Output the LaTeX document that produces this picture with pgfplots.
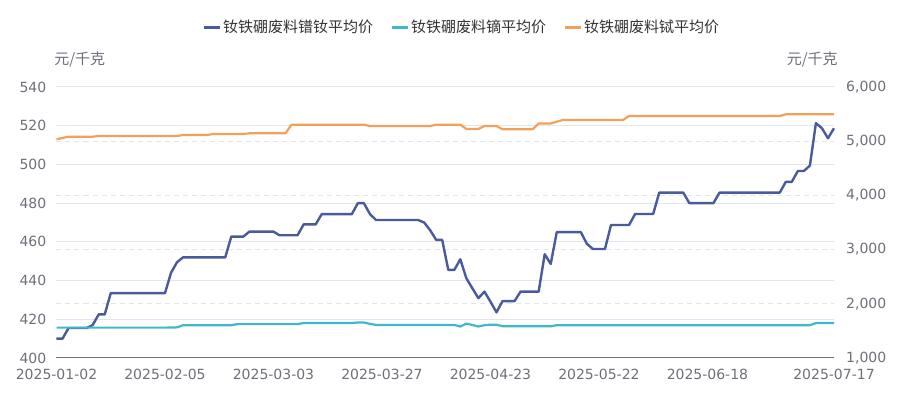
\documentclass[border=0pt]{standalone}
\usepackage{fontspec}
\setmainfont{Noto Sans CJK SC}
\newfontfamily\tickfont{DejaVu Sans}
\usepackage{pgfplots}
\pgfplotsset{compat=1.18}
\usepackage{pgfplotstable}
\definecolor{cBlue}{HTML}{4A5A9C}
\definecolor{cCyan}{HTML}{3FB8CC}
\definecolor{cOrange}{HTML}{F2A15A}
\definecolor{gridc}{HTML}{E0E6F1}
\definecolor{tickc}{HTML}{6E7079}
\definecolor{legc}{HTML}{333333}
\pgfplotstableread{
i nd dy tb
0 410 1560 5035
1 410 1560 5060
2 415.5 1560 5083
3 415.5 1560 5083
4 415.5 1560 5083
5 415.5 1560 5083
6 417 1560 5083
7 422.5 1560 5096
8 422.5 1560 5096
9 433.5 1560 5096
10 433.5 1560 5096
11 433.5 1560 5096
12 433.5 1560 5096
13 433.5 1560 5096
14 433.5 1560 5096
15 433.5 1560 5096
16 433.5 1560 5096
17 433.5 1560 5096
18 433.5 1560 5096
19 444 1562 5096
20 449.5 1565 5096
21 452 1605 5114
22 452 1605 5114
23 452 1605 5114
24 452 1605 5114
25 452 1605 5114
26 452 1605 5133
27 452 1605 5133
28 452 1605 5133
29 462.7 1605 5133
30 462.7 1625 5133
31 462.7 1625 5133
32 465.3 1625 5145
33 465.3 1625 5145
34 465.3 1625 5145
35 465.3 1625 5145
36 465.3 1625 5145
37 463.4 1625 5145
38 463.4 1625 5145
39 463.4 1625 5305
40 463.4 1625 5305
41 469 1645 5305
42 469 1645 5305
43 469 1645 5305
44 474.3 1645 5305
45 474.3 1645 5305
46 474.3 1645 5305
47 474.3 1645 5305
48 474.3 1645 5305
49 474.3 1645 5305
50 480 1655 5305
51 480 1655 5305
52 474.4 1630 5280
53 471.3 1610 5280
54 471.3 1610 5280
55 471.3 1610 5280
56 471.3 1610 5280
57 471.3 1610 5280
58 471.3 1610 5280
59 471.3 1610 5280
60 471.3 1610 5280
61 470 1610 5280
62 466 1610 5280
63 461 1610 5305
64 461 1610 5305
65 445.5 1610 5305
66 445.5 1610 5305
67 451 1580 5305
68 441.2 1635 5225
69 436 1610 5225
70 430.9 1580 5225
71 434.3 1605 5280
72 429.1 1615 5280
73 423.6 1615 5280
74 429.4 1585 5219
75 429.4 1585 5219
76 429.4 1585 5219
77 434.3 1585 5219
78 434.3 1585 5219
79 434.3 1585 5219
80 434.3 1585 5328
81 453.6 1585 5328
82 448.6 1585 5328
83 465 1605 5360
84 465 1605 5391
85 465 1605 5391
86 465 1605 5391
87 465 1605 5391
88 459 1605 5391
89 456.3 1605 5391
90 456.3 1605 5391
91 456.3 1605 5391
92 468.7 1605 5391
93 468.7 1605 5391
94 468.7 1605 5391
95 468.7 1605 5465
96 474.4 1605 5465
97 474.4 1605 5465
98 474.4 1605 5465
99 474.4 1605 5465
100 485.4 1605 5465
101 485.4 1605 5465
102 485.4 1605 5465
103 485.4 1605 5465
104 485.4 1605 5465
105 480 1605 5465
106 480 1605 5465
107 480 1605 5465
108 480 1605 5465
109 480 1605 5465
110 485.4 1605 5465
111 485.4 1605 5465
112 485.4 1605 5465
113 485.4 1605 5465
114 485.4 1605 5465
115 485.4 1605 5465
116 485.4 1605 5465
117 485.4 1605 5465
118 485.4 1605 5465
119 485.4 1605 5465
120 485.4 1605 5465
121 491 1605 5496
122 491 1605 5496
123 496.6 1605 5496
124 496.6 1605 5496
125 499.4 1605 5496
126 521.3 1645 5496
127 518.7 1645 5496
128 513.5 1645 5496
129 518.7 1645 5496
}\data
\begin{document}
\begin{tikzpicture}
\path[use as bounding box] (0pt,0pt) rectangle (922pt,396pt);
\begin{axis}[
  at={(56.5pt,38pt)}, anchor=south west,
  scale only axis, width=777.5pt, height=271pt,
  xmin=0, xmax=129, ymin=400, ymax=540,
  ytick={400,420,...,540},
  xtick={0,18,36,54,72,90,108,129},
  xticklabels={2025-01-02,2025-02-05,2025-03-03,2025-03-27,2025-04-23,2025-05-22,2025-06-18,2025-07-17},
  major tick length=0pt,
  axis lines*=left, axis line style={-},
  y axis line style={draw=none},
  x axis line style={draw=tickc, line width=1pt},
  ymajorgrids, major grid style={draw=gridc, line width=1pt},
  extra y ticks={428,456,484,512},
  extra y tick labels={},
  extra y tick style={grid=major, major grid style={draw=gridc, line width=1pt, dash pattern=on 5pt off 4pt}},
  /pgf/number format/assume math mode=true,
  tick label style={font=\tickfont\fontsize{14}{16}\selectfont, text=tickc},
  yticklabel style={anchor=east, inner sep=0pt, xshift=-10pt},
  xticklabel style={anchor=north, inner sep=0pt, yshift=-11pt},
  clip=false,
]
\addplot[cBlue, line width=2.4pt, line join=round, no markers] table[x=i, y=nd] {\data};
\node[anchor=west, inner sep=0pt, text=tickc, font=\fontsize{15}{17}\selectfont] at (rel axis cs:-0.003,1.0996) {元/千克};
\end{axis}
\begin{axis}[
  at={(56.5pt,38pt)}, anchor=south west,
  scale only axis, width=777.5pt, height=271pt,
  xmin=0, xmax=129, ymin=1000, ymax=6000,
  ytick={1000,2000,...,6000},
  axis x line=none,
  axis y line*=right, axis line style={-},
  y axis line style={draw=none},
  major tick length=0pt,
  scaled y ticks=false,
  /pgf/number format/1000 sep={,},
  /pgf/number format/assume math mode=true,
  tick label style={font=\tickfont\fontsize{14}{16}\selectfont, text=tickc},
  yticklabel style={anchor=west, inner sep=0pt, xshift=12pt},
  legend style={at={(0.521,1.221)}, anchor=center, draw=none, fill=none,
    font=\fontsize{15}{17}\selectfont, text=legc, legend columns=-1,
    /tikz/every even column/.append style={column sep=15pt},
    inner sep=0pt},
  legend image code/.code={\draw[#1, line width=3pt] (0pt,0pt) -- (16pt,0pt);},
  clip=false,
]
\addlegendimage{cBlue}
\addlegendentry{钕铁硼废料镨钕平均价}
\addplot[cCyan, line width=2.2pt, line join=round, no markers] table[x=i, y=dy] {\data};
\addlegendentry{钕铁硼废料镝平均价}
\addplot[cOrange, line width=2.2pt, line join=round, no markers] table[x=i, y=tb] {\data};
\addlegendentry{钕铁硼废料铽平均价}
\node[anchor=east, inner sep=0pt, text=tickc, font=\fontsize{15}{17}\selectfont] at (rel axis cs:1.005,1.0996) {元/千克};
\end{axis}
\end{tikzpicture}
\end{document}
